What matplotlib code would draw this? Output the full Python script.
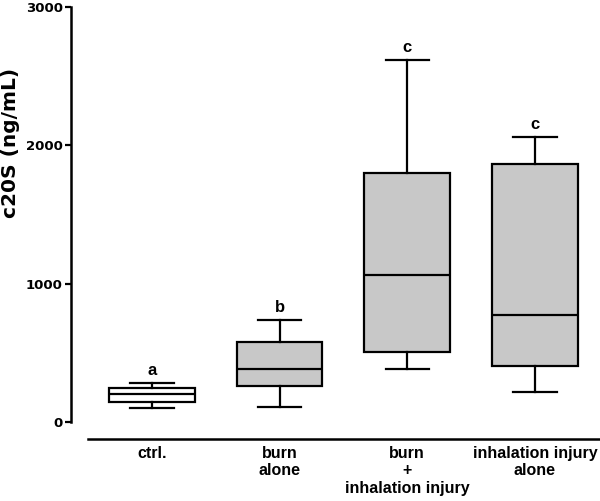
import matplotlib.pyplot as plt

plt.rcParams['font.family'] = ['Liberation Sans', 'DejaVu Sans']
plt.rcParams['font.weight'] = 'bold'

groups  = ['ctrl.', 'burn\nalone', 'burn\n+\ninhalation injury', 'inhalation injury\nalone']
whislo  = [101, 108, 383, 217]
q1      = [145, 260, 506, 405]
med     = [202, 383, 1063, 774]
q3      = [246, 578, 1800, 1866]
whishi  = [282, 738, 2618, 2061]
letters = ['a', 'b', 'c', 'c']
fills   = ['white', '#c8c8c8', '#c8c8c8', '#c8c8c8']

stats = []
for i in range(len(groups)):
    stats.append(dict(whislo=whislo[i], q1=q1[i], med=med[i], q3=q3[i],
                      whishi=whishi[i], fliers=[]))

fig = plt.figure(figsize=(6, 5.01), dpi=100)
ax = fig.add_axes([71/600, 1 - 422/501, 1 - 71/600, (422 - 7)/501])

lw = 1.6
bp = ax.bxp(stats, positions=range(len(groups)), widths=0.67, patch_artist=True,
            showfliers=False,
            boxprops=dict(linewidth=lw, edgecolor='black'),
            medianprops=dict(color='black', linewidth=lw),
            whiskerprops=dict(color='black', linewidth=lw),
            capprops=dict(color='black', linewidth=lw),
            capwidths=0.34)
for patch, c in zip(bp['boxes'], fills):
    patch.set_facecolor(c)

for i, t in enumerate(letters):
    ax.text(i, whishi[i] + 35, t, ha='center', va='bottom', fontsize=12,
            fontweight='bold')

ax.set_xlim(-0.634, 3.51)
ax.set_ylim(0, 3000)
ax.tick_params(axis='x', length=0, pad=5, labelsize=11.5)
ax.tick_params(axis='y', length=4, width=1.6, pad=2, labelsize=9.5)
ax.set_yticks([0, 1000, 2000, 3000])
ax.set_xticks(range(len(groups)))
ax.set_xticklabels(groups, fontsize=11.5, fontweight='bold', linespacing=1.12)
for lab in ax.get_yticklabels():
    lab.set_fontweight('bold')
    lab.set_fontfamily('DejaVu Sans')
    lab.set_fontsize(9.5)

ax.spines['top'].set_visible(False)
ax.spines['right'].set_visible(False)
ax.spines['left'].set_linewidth(1.8)
ax.spines['bottom'].set_linewidth(1.8)
ax.spines['bottom'].set_position(('outward', 12.2))
ax.spines['bottom'].set_bounds(-0.5, 3.51)

ax.set_ylabel('c20S (ng/mL)', fontsize=14.5, fontweight='bold', family='DejaVu Sans')
ax.yaxis.set_label_coords(-0.096, 0.672)

fig.savefig('out.png', dpi=100)
